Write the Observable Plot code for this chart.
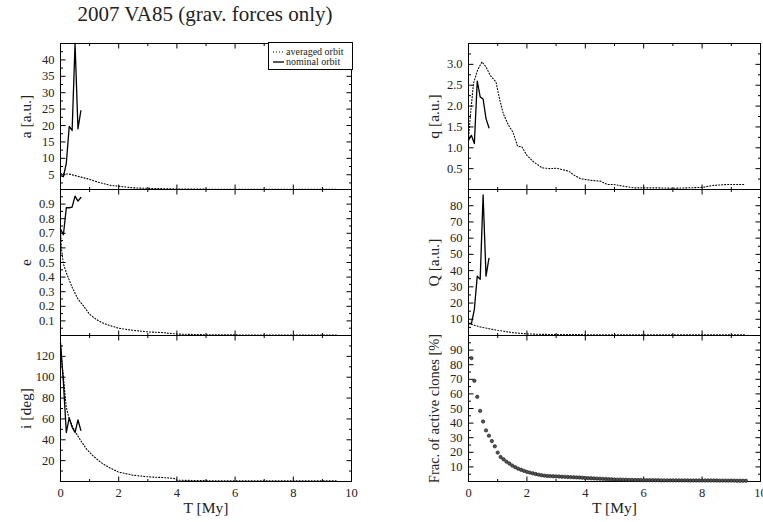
<!DOCTYPE html>
<html><head><meta charset="utf-8">
<script src="https://cdn.jsdelivr.net/npm/d3@7"></script>
<script src="https://cdn.jsdelivr.net/npm/@observablehq/plot@0.6"></script>
<style>
html,body{margin:0;padding:0;background:#fff;overflow:hidden;}
#root{position:relative;width:763px;height:522px;font-family:"Liberation Serif",serif;}
.panel{position:absolute;}
#title{position:absolute;left:0;top:2px;width:410px;text-align:center;font-size:21px;color:#222;font-family:"Liberation Serif",serif;}
#legend{position:absolute;left:268px;top:42px;width:83px;height:26px;border:1px solid #000;background:#fff;}
</style></head><body><div id="root"><div id="title">2007 VA85 (grav. forces only)</div></div>
<script>
// ---------- data ----------
const xMajor = [2, 4, 6, 8];
const xMinor = [1, 3, 5, 7, 9];
const xTickLabels = [0, 2, 4, 6, 8, 10];

const nominalT = [0, 0.1, 0.2, 0.3, 0.4, 0.5, 0.6, 0.7];
const nominalA = [4.7, 4.4, 8.5, 19.7, 18.5, 45, 19, 24.5];
const nominalE = [0.73, 0.69, 0.875, 0.875, 0.88, 0.955, 0.92, 0.945];
const nominalI = [133, 95, 47, 61, 52, 47, 59, 49];
const nominalPeri = [1.18, 1.30, 1.10, 2.60, 2.22, 2.17, 1.70, 1.48];
const nominalAph = [7.4, 7.4, 16, 36.6, 34.6, 86.6, 36.6, 47.6];

const avgAT = [0, 0.3, 0.7, 1.0, 1.3, 1.7, 2.0, 2.5, 3.0, 3.5, 4, 5, 6, 7, 8, 9, 9.5];
const avgA  = [5.3, 5.2, 4.3, 3.6, 2.7, 1.8, 1.5, 1.0, 0.85, 0.75, 0.65, 0.6, 0.55, 0.55, 0.55, 0.55, 0.55];

const avgET = [0, 0.03, 0.1, 0.2, 0.3, 0.4, 0.5, 0.6, 0.8, 1.0, 1.2, 1.4, 1.7, 2.0, 2.5, 3.0, 3.5, 4.0, 5, 6, 7, 8, 9, 9.5];
const avgE  = [0.73, 0.6, 0.49, 0.43, 0.38, 0.33, 0.29, 0.25, 0.2, 0.145, 0.115, 0.09, 0.068, 0.05, 0.035, 0.025, 0.02, 0.01, 0.005, 0.004, 0.003, 0.003, 0.003, 0.003];

const avgIT = [0, 0.05, 0.1, 0.2, 0.3, 0.4, 0.5, 0.7, 0.9, 1.1, 1.4, 1.7, 2.0, 2.5, 3.0, 3.5, 3.9, 4.0, 5, 6, 7, 8, 9, 9.5];
const avgI  = [133, 115, 100, 71, 60, 53.5, 48, 39, 31, 25, 18, 13, 9, 6, 4.5, 3.8, 3, 1.2, 0.8, 0.7, 0.6, 0.6, 0.6, 0.6];

const avgPeriT = [0, 0.06, 0.17, 0.31, 0.46, 0.6, 0.74, 0.94, 1.06, 1.19, 1.37, 1.52, 1.68, 1.83, 2.0, 2.23, 2.52, 2.8, 3.03, 3.25, 3.43, 3.6, 3.83, 4.18, 4.52, 4.75, 4.98, 5.3, 5.66, 6.0, 6.5, 7.0, 7.5, 8.0, 8.4, 8.86, 9.43];
const avgPeri  = [1.2, 1.74, 2.54, 2.86, 3.06, 2.94, 2.74, 2.58, 2.18, 1.82, 1.54, 1.38, 1.04, 1.02, 0.82, 0.66, 0.52, 0.5, 0.51, 0.47, 0.44, 0.35, 0.26, 0.22, 0.2, 0.12, 0.12, 0.08, 0.04, 0.04, 0.04, 0.03, 0.04, 0.05, 0.10, 0.12, 0.12];

const avgAphT = [0, 0.4, 0.7, 1.0, 1.5, 2.0, 2.5, 3, 4, 5, 6, 7, 8, 9, 9.5];
const avgAph  = [7.4, 5.3, 4.2, 3.2, 1.8, 1.0, 0.7, 0.6, 0.5, 0.5, 0.5, 0.5, 0.5, 0.5, 0.5];

const fracT = [0.1,0.2,0.3,0.4,0.5,0.6,0.7,0.8,0.9,1.0,1.1,1.2,1.3,1.4,1.5,1.6,1.7,1.8,1.9,2.0,
  2.1,2.2,2.3,2.4,2.5,2.6,2.7,2.8,2.9,3.0,3.1,3.2,3.3,3.4,3.5,3.6,3.7,3.8,3.9,4.0,
  4.1,4.2,4.3,4.4,4.5,4.6,4.7,4.8,4.9,5.0,5.1,5.2,5.3,5.4,5.5,5.6,5.7,5.8,5.9,6.0,
  6.1,6.2,6.3,6.4,6.5,6.6,6.7,6.8,6.9,7.0,7.1,7.2,7.3,7.4,7.5,7.6,7.7,7.8,7.9,8.0,
  8.1,8.2,8.3,8.4,8.5,8.6,8.7,8.8,8.9,9.0,9.1,9.2,9.3,9.4,9.5];
const fracActive = [84.5,69,58,48.4,41.1,35,31.4,27.7,24.1,19.8,
  16.8,15.2,13.6,12.3,10.9,9.8,8.8,8.0,7.3,6.6,
  6.1,5.6,5.1,4.7,4.3,4.0,3.8,3.7,3.6,3.5,
  3.4,3.3,3.2,3.1,3.0,2.9,2.8,2.7,2.6,2.4,
  2.3,2.2,2.1,2.0,1.9,1.8,1.7,1.6,1.5,1.4,
  1.3,1.3,1.2,1.2,1.1,1.1,1.0,1.0,1.0,0.9,
  0.9,0.9,0.9,0.9,0.9,0.8,0.8,0.8,0.8,0.8,
  0.8,0.8,0.8,0.8,0.8,0.7,0.7,0.7,0.7,0.7,
  0.7,0.7,0.7,0.7,0.7,0.6,0.6,0.6,0.6,0.6,
  0.6,0.5,0.5,0.5,0.5];

const aMajor = [5,10,15,20,25,30,35,40], aMinor = [2.5,7.5,12.5,17.5,22.5,27.5,32.5,37.5,42.5];
const eMajor = [0.1,0.2,0.3,0.4,0.5,0.6,0.7,0.8,0.9], eMinor = [0.05,0.15,0.25,0.35,0.45,0.55,0.65,0.75,0.85,0.95];
const iMajor = [20,40,60,80,100,120], iMinor = [10,30,50,70,90,110,130];
const qMajor = [0.5,1.0,1.5,2.0,2.5,3.0], qMinor = [0.25,0.75,1.25,1.75,2.25,2.75,3.25];
const QMajor = [10,20,30,40,50,60,70,80], QMinor = [5,15,25,35,45,55,65,75,85];
const fMajor = [10,20,30,40,50,60,70,80,90], fMinor = [5,15,25,35,45,55,65,75,85,95];

// ---------- helpers ----------
const zip = (ts, vs) => ts.map((t, i) => ({t, v: vs[i]}));
function tickSym(dx, dy) {
  return {draw(ctx, size) { const l = Math.sqrt(size / Math.PI); ctx.moveTo(0, 0); ctx.lineTo(dx * l, dy * l); }};
}
const tick = (data, ch, anchor, sym, r) => Plot.dot(data, {[ch]: d => d, frameAnchor: anchor, symbol: sym, r, stroke: "black", fill: "none", strokeWidth: 1});

const root = document.getElementById("root");
const cols = {
  left:  {left: 0,   width: 380, mL: 60, mR: 29, dx: -34},
  right: {left: 380, width: 383, mL: 88, mR: 3, dx: -34}
};
const rows = [
  {top: 38,  mT: 5, mB: 3,  height: 154},
  {top: 186, mT: 3, mB: 3,  height: 152},
  {top: 332, mT: 3, mB: 41, height: 190}
];

function panel(col, row, cfg) {
  const c = cols[col], r = rows[row];
  const bottom = row === 2;
  const fmt = cfg.fmt || (d => String(d));
  const marks = [
    Plot.frame({stroke: "black", strokeWidth: 1}),
    tick(xMajor, "x", "bottom", tickSym(0, -1), 5),
    tick(xMinor, "x", "bottom", tickSym(0, -1), 2.5),
    tick(xMajor, "x", "top", tickSym(0, 1), 5),
    tick(xMinor, "x", "top", tickSym(0, 1), 2.5),
    tick(cfg.yMajor, "y", "left", tickSym(1, 0), 5),
    tick(cfg.yMinor, "y", "left", tickSym(1, 0), 2.5),
    tick(cfg.yMajor, "y", "right", tickSym(-1, 0), 5),
    tick(cfg.yMinor, "y", "right", tickSym(-1, 0), 2.5),
    Plot.axisY({ticks: cfg.yMajor, tickSize: 0, tickPadding: 6, tickFormat: fmt, label: null, fontSize: 12.5}),
    Plot.text([cfg.label], {text: d => d, frameAnchor: "left", textAnchor: "middle", lineAnchor: "middle", rotate: -90, dx: c.dx, fontSize: cfg.labelSize || 15.5, fill: "#222"})
  ];
  if (cfg.avg) marks.push(Plot.line(cfg.avg, {x: "t", y: "v", stroke: "black", strokeWidth: 1.1, strokeDasharray: "1,2"}));
  if (cfg.nom) marks.push(Plot.line(cfg.nom, {x: "t", y: "v", stroke: "black", strokeWidth: 1.3}));
  if (cfg.dots) marks.push(Plot.dot(cfg.dots, {x: "t", y: "v", r: 1.7, fill: "#555", stroke: "#111", strokeWidth: 0.6}));
  if (bottom) {
    marks.push(Plot.axisX({ticks: xTickLabels, tickSize: 0, tickPadding: 7, label: null, fontSize: 12.5}));
    marks.push(Plot.text(["T [My]"], {text: d => d, frameAnchor: "bottom", textAnchor: "middle", dy: 31, fontSize: 15.5, fill: "#222"}));
  }
  const svg = Plot.plot({
    width: c.width, height: r.height,
    marginLeft: c.mL, marginRight: c.mR, marginTop: r.mT, marginBottom: r.mB,
    x: bottom ? {domain: [0, 10]} : {domain: [0, 10], axis: null},
    y: {domain: cfg.yDomain},
    style: {background: "transparent", fontFamily: "'Liberation Serif', serif", fontSize: "12px", color: "#222", overflow: "visible"},
    marks
  });
  const d = document.createElement("div");
  d.className = "panel";
  d.style.left = c.left + "px";
  d.style.top = r.top + "px";
  d.appendChild(svg);
  root.appendChild(d);
}

panel("left", 0, {yDomain: [0.5, 45], yMajor: aMajor, yMinor: aMinor, label: "a [a.u.]",
  avg: zip(avgAT, avgA), nom: zip(nominalT, nominalA)});
panel("left", 1, {yDomain: [0, 1], yMajor: eMajor, yMinor: eMinor, label: "e", fmt: d => d.toFixed(1),
  avg: zip(avgET, avgE), nom: zip(nominalT, nominalE)});
panel("left", 2, {yDomain: [0, 140], yMajor: iMajor, yMinor: iMinor, label: "i [deg]",
  avg: zip(avgIT, avgI), nom: zip(nominalT, nominalI)});
panel("right", 0, {yDomain: [0, 3.5], yMajor: qMajor, yMinor: qMinor, label: "q [a.u.]", fmt: d => d.toFixed(1),
  avg: zip(avgPeriT, avgPeri), nom: zip(nominalT, nominalPeri)});
panel("right", 1, {yDomain: [0, 90], yMajor: QMajor, yMinor: QMinor, label: "Q [a.u.]",
  avg: zip(avgAphT, avgAph), nom: zip(nominalT, nominalAph)});
panel("right", 2, {yDomain: [0, 100], yMajor: fMajor, yMinor: fMinor, label: "Frac. of active clones [%]", labelSize: 14.5,
  dots: zip(fracT, fracActive)});

// legend
const leg = document.createElement("div");
leg.id = "legend";
leg.innerHTML = `<svg width="83" height="26" style="display:block;font-family:'Liberation Serif',serif;font-size:10px;fill:#222">
<line x1="4" y1="9" x2="15" y2="9" stroke="black" stroke-width="1.1" stroke-dasharray="1,2"/>
<text x="17" y="12">averaged orbit</text>
<line x1="4" y1="19" x2="15" y2="19" stroke="black" stroke-width="1.3"/>
<text x="17" y="22">nominal orbit</text></svg>`;
root.appendChild(leg);
</script></body></html>
